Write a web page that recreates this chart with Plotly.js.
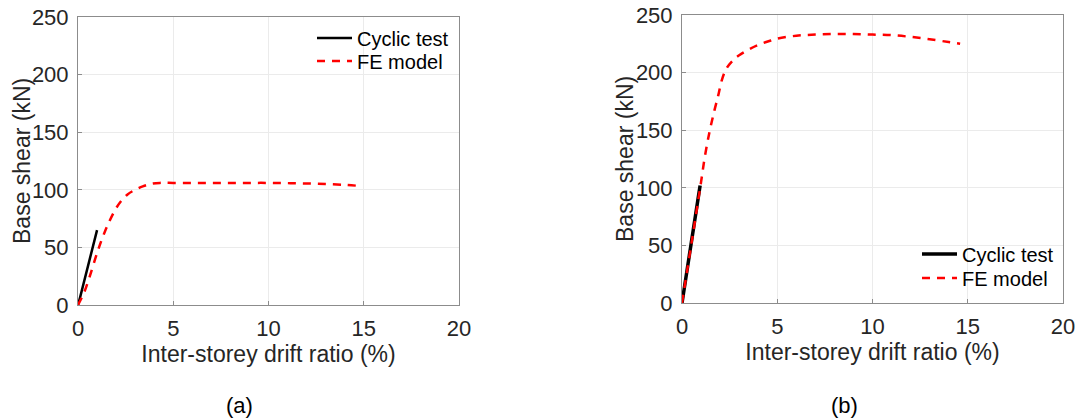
<!DOCTYPE html>
<html>
<head>
<meta charset="utf-8">
<script src="https://cdn.plot.ly/plotly-3.0.1.min.js"></script>
<style>html,body{margin:0;padding:0;background:#fff;}#chart{width:1080px;height:418px;}</style>
</head>
<body>
<div id="chart"></div>
<script>
// Panel (a)
const testA_x = [0, 0.1, 1.0];
const testA_y = [0, 6, 65];
const feA_x = [0, 0.3, 0.6, 1.0, 1.3, 1.6, 2.0, 2.3, 2.6, 3.0, 3.4, 3.8, 4.3, 5, 6, 7, 8, 9, 10, 11, 12, 13, 14, 14.6];
const feA_y = [0, 10, 24, 45, 59, 71, 84, 91, 96, 100, 103, 105, 106, 106, 106, 106, 106, 106, 106, 105.8, 105.5, 105, 104.3, 103.6];
// Panel (b)
const testB_x = [0, 0.3, 0.6, 0.95];
const testB_y = [0, 31, 64, 102];
const feB_x = [0, 0.5, 1.0, 1.2, 1.45, 1.7, 1.9, 2.1, 2.35, 2.7, 3.0, 3.5, 4.0, 4.5, 5, 6, 7, 8, 9, 10, 11, 12, 13, 14, 14.6];
const feB_y = [0, 52, 105, 127, 149, 167, 180, 194, 204, 211, 215, 220, 224, 227, 229.5, 232, 233, 233.5, 233.5, 233, 232.5, 231, 229, 226.5, 225];

const xTicks = [0, 5, 10, 15, 20];
const yTicks = [0, 50, 100, 150, 200, 250];
const xTitle = 'Inter-storey drift ratio (%)';
const yTitle = 'Base shear (kN)';
const panelLabels = ['(a)', '(b)'];
const seriesNames = ['Cyclic test', 'FE model'];

const FONT = 'Liberation Sans, Arial, sans-serif';
const TXT = '#262626';

const testLine = {color: '#000', width: 2.5};
const feLine = {color: '#ff0000', width: 2.5, dash: '8px,7px', shape: 'spline'};

const traces = [
  {x: testA_x, y: testA_y, mode: 'lines', name: seriesNames[0], line: testLine, xaxis: 'x', yaxis: 'y', legend: 'legend'},
  {x: feA_x, y: feA_y, mode: 'lines', name: seriesNames[1], line: feLine, xaxis: 'x', yaxis: 'y', legend: 'legend2'},
  {x: testB_x, y: testB_y, mode: 'lines', name: seriesNames[0], line: {color: '#000', width: 3.5}, xaxis: 'x2', yaxis: 'y2', legend: 'legend3'},
  {x: feB_x, y: feB_y, mode: 'lines', name: seriesNames[1], line: feLine, xaxis: 'x2', yaxis: 'y2', legend: 'legend4'}
];

function xa(domain, anchor) {
  return {
    domain: domain, anchor: anchor, range: [0, 20], tickvals: xTicks, ticktext: xTicks.map(String),
    showline: true, mirror: true, linecolor: '#8c8c8c', linewidth: 1,
    showgrid: true, gridcolor: '#ebebeb', gridwidth: 1, zeroline: false,
    ticks: 'inside', ticklen: 4, tickcolor: '#8c8c8c',
    tickfont: {family: FONT, size: 22, color: TXT}, ticklabelstandoff: 4,
    title: {text: xTitle, font: {family: FONT, size: 23, color: TXT}, standoff: 4}
  };
}
function ya(domain, anchor) {
  return {
    domain: domain, anchor: anchor, range: [0, 250], tickvals: yTicks, ticktext: yTicks.map(String),
    showline: true, mirror: true, linecolor: '#8c8c8c', linewidth: 1,
    showgrid: true, gridcolor: '#ebebeb', gridwidth: 1, zeroline: false,
    ticks: 'inside', ticklen: 4, tickcolor: '#8c8c8c',
    tickfont: {family: FONT, size: 22, color: TXT}, ticklabelstandoff: 4
  };
}
function leg(px, py) {
  return {x: px/1080, y: 1 - py/418, xanchor: 'left', yanchor: 'middle', bgcolor: 'rgba(0,0,0,0)', borderwidth: 0,
          itemwidth: 35, font: {family: FONT, size: 20, color: '#000'}, tracegroupgap: 0};
}
function ann(text, px, py, angle) {
  return {text: text, xref: 'paper', yref: 'paper', x: px/1080, y: 1 - py/418, xanchor: 'center', yanchor: 'middle',
          textangle: angle || 0, showarrow: false, font: {family: FONT, size: angle ? 23 : 22, color: angle ? TXT : '#000'}};
}

const layout = {
  width: 1080, height: 418,
  margin: {l: 0, r: 0, t: 0, b: 0},
  paper_bgcolor: '#fff', plot_bgcolor: '#fff',
  font: {family: FONT, color: TXT},
  showlegend: true,
  xaxis: xa([78/1080, 459/1080], 'y'),
  yaxis: ya([1 - 305/418, 1 - 17/418], 'x'),
  xaxis2: xa([682/1080, 1063/1080], 'y2'),
  yaxis2: ya([1 - 303/418, 1 - 15/418], 'x2'),
  legend: leg(312, 38),
  legend2: leg(312, 61),
  legend3: leg(917, 254),
  legend4: leg(917, 278),
  annotations: [
    ann(yTitle, 22, 161, -90),
    ann(yTitle, 625, 159, -90),
    ann(panelLabels[0], 239, 405),
    ann(panelLabels[1], 844, 405)
  ]
};

Plotly.newPlot('chart', traces, layout, {displayModeBar: false, staticPlot: true});
</script>
</body>
</html>
